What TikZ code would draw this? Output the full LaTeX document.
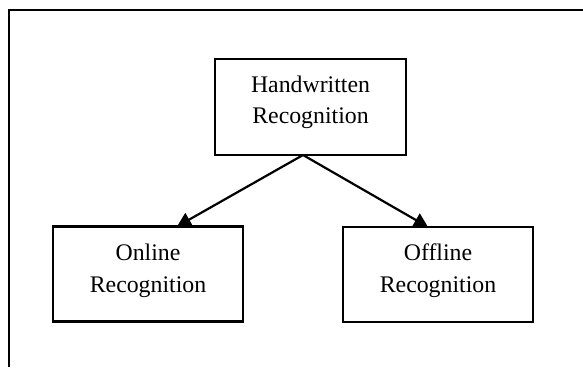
\documentclass[tikz,border=0pt]{standalone}
\usepackage{fontspec}
\setmainfont{Liberation Serif}
\usetikzlibrary{arrows.meta}
\tikzset{
  box/.style={draw=black, line width=2.2pt, rectangle, inner sep=0pt},
  label/.style={align=center, inner sep=0pt, font=\fontsize{23.8}{31.5}\selectfont},
  conn/.style={line width=2.2pt, -{Triangle[length=14pt,width=15pt]}},
  frame/.style={line width=2.2pt}
}
\begin{document}
\begin{tikzpicture}[x=1pt,y=-1pt]
\useasboundingbox (0,0) rectangle (583,367);
% outer frame (top and left only)
\coordinate (ftr) at (583,10);
\coordinate (ftl) at (9,10);
\coordinate (fbl) at (9,367);
\draw[frame] (ftr) -- (ftl) -- (fbl);
% boxes
\node[box, minimum width=191pt, minimum height=96pt] (hw) at (310.5,107) {};
\node[box, minimum width=190pt, minimum height=95pt] (on) at (148,274) {};
\node[box, minimum width=190pt, minimum height=95pt] (off) at (438,274.5) {};
% texts
\node[label, anchor=base] (hwt) at (310.5,123.5) {Handwritten\\Recognition};
\node[label, anchor=base] (ont) at (148,292) {Online\\Recognition};
\node[label, anchor=base] (offt) at (438,292) {Offline\\Recognition};
% connectors
\coordinate (apex) at (303,155);
\coordinate (ontip) at (177,226.5);
\coordinate (offtip) at (428,227);
\draw[conn] (apex) -- (ontip);
\draw[conn] (apex) -- (offtip);
\end{tikzpicture}
\end{document}
